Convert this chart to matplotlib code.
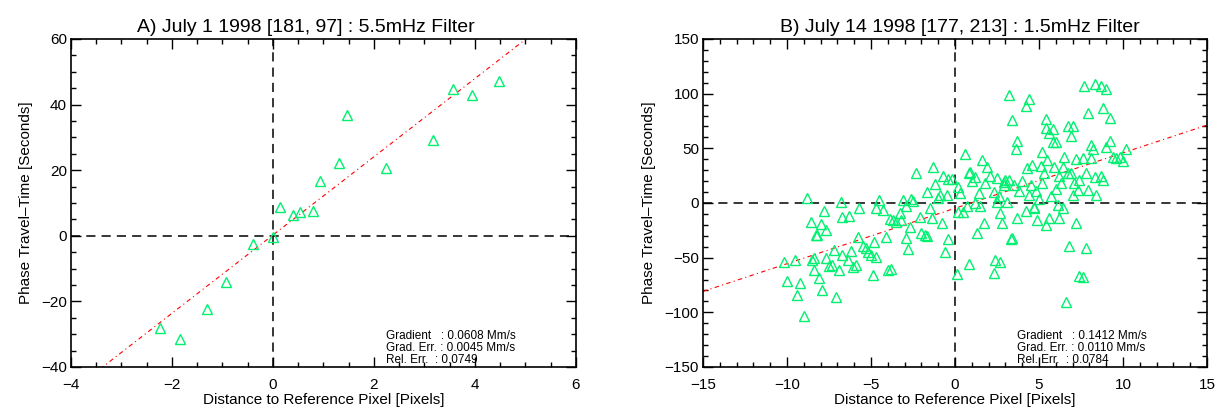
# Phase travel-time vs distance to reference pixel, two filters

import numpy as np
import matplotlib
matplotlib.use('Agg')
import matplotlib.pyplot as plt
from matplotlib.ticker import MultipleLocator

plt.rcParams['font.family'] = ['Liberation Sans', 'DejaVu Sans']

# Panel A data (July 1 1998, 5.5mHz)
a_dist = [-2.24, -1.84, -1.31, -0.92, -0.39, 0.0, 0.14, 0.39, 0.53, 0.79,
          0.93, 1.31, 1.46, 2.24, 3.16, 3.56, 3.95, 4.48]
a_time = [-28.0, -31.6, -22.2, -14.2, -2.6, -0.4, 8.9, 6.3, 7.2, 7.7,
          16.7, 22.3, 36.9, 20.6, 29.3, 44.8, 43.0, 47.3]
a_fit = [0.23, 11.93]  # intercept, slope
a_stats = ["0.0608 Mm/s", "0.0045 Mm/s", "0.0749"]

# Panel B data (July 14 1998, 1.5mHz)
b_dist = [-10.2, -9.5, -10.0, -9.2, -9.4, -9.0, -8.8, -8.6, -8.5, -8.4,
          -8.4, -8.3, -8.2, -8.0, -8.1, -7.9, -7.8, -7.7, -7.7, -7.5,
          -7.3, -7.2, -7.1, -6.9, -6.8, -6.7, -6.7, -6.4, -6.3, -6.2,
          -6.1, -5.9, -5.8, -5.7, -5.5, -5.3, -5.2, -5.0, -4.9, -4.8,
          -4.7, -4.7, -4.5, -4.3, -4.1, -4.0, -3.8, -3.9, -3.7, -3.5,
          -3.3, -3.2, -3.1, -2.9, -2.9, -2.8, -2.7, -2.6, -2.5, -2.3,
          -2.1, -2.0, -1.8, -1.7, -1.7, -1.5, -1.4, -1.3, -1.2, -1.0,
          -0.9, -0.8, -0.7, -0.6, -0.5, -0.4, -0.4, -0.2,
          0.1, 0.2, 0.3, 0.2, 0.5, 0.6, 0.7, 0.8, 0.8, 0.9,
          1.0, 1.2, 1.2, 1.3, 1.4, 1.5, 1.6, 1.7, 1.8, 1.9,
          2.1, 2.3, 2.3, 2.4, 2.5, 2.5, 2.6, 2.7, 2.7, 2.8,
          2.9, 2.9, 3.0, 3.1, 3.2, 3.2, 3.3, 3.4, 3.4, 3.5,
          3.6, 3.7, 3.7, 3.8, 4.0, 4.2, 4.2, 4.3, 4.4, 4.4,
          4.5, 4.6, 4.7, 4.7, 4.8, 4.9, 5.0, 5.1, 5.2, 5.2,
          5.3, 5.4, 5.4, 5.4, 5.5, 5.6, 5.6, 5.7, 5.8, 5.8,
          5.9, 6.0, 6.0, 6.1, 6.2, 6.2, 6.3, 6.4, 6.4, 6.5,
          6.6, 6.7, 6.7, 6.8, 6.9, 6.9, 7.0, 7.0, 7.1, 7.2,
          7.2, 7.3, 7.4, 7.4, 7.6, 7.6, 7.7, 7.8, 7.8, 7.9,
          7.9, 8.1, 8.1, 8.2, 8.3, 8.3, 8.4, 8.7, 8.7, 8.8,
          8.8, 9.0, 9.0, 9.2, 9.2, 9.4, 9.6, 9.8, 10.0, 10.2]
b_time = [-54, -52, -71, -73, -84, -103, 5, -17, -52, -50,
          -61, -29, -29, -19, -69, -80, -7, -25, -50, -58,
          -57, -43, -86, -61, 1, -13, -48, -52, -12, -44,
          -59, -57, -31, -5, -39, -41, -45, -48, -66, -36,
          -49, -5, 3, -6, -31, -61, -60, -15, -16, -17,
          -9, -16, 3, -32, -3, -42, -22, 4, 2, 27,
          -13, -27, -29, -30, 10, -5, -14, 33, 17, 5,
          7, -18, 25, -45, 7, -33, 22, 22,
          -65, 15, 9, -8, -8, 45, -3, -56, 27, 28,
          20, 0, 24, -27, 9, -3, 39, -18, 18, 33,
          25, -64, 10, -52, 1, 23, 6, -54, -9, -18,
          19, 16, 21, 1, 21, 99, -33, 76, -32, 16,
          49, -14, 57, 11, 20, 89, -7, 32, 95, 7,
          16, 35, -5, -4, 11, -16, 4, 34, 47, 18,
          27, 69, 77, -20, 39, 64, -14, 6, 68, 56,
          33, 56, 13, -2, -14, 25, 18, 33, -5, 42,
          -91, 70, 27, -39, 27, 61, 7, 70, 18, 40,
          -18, 12, 21, -67, -68, 41, 107, -41, 27, 82,
          12, 53, 41, 49, 24, 109, 7, 107, 25, 87,
          21, 51, 104, 78, 57, 42, 41, 42, 38, 49]
b_fit = [-4.8, 5.07]
b_stats = ["0.1412 Mm/s", "0.0110 Mm/s", "0.0784"]

green = '#00f070'


def panel(ax, x, y, fit, stats, title, title_x, xlim, ylim, xmaj, xmin, ymaj, ymin):
    ax.axvline(0, color='k', ls=(0, (6, 4)), lw=1.1)
    ax.axhline(0, color='k', ls=(0, (6, 4)), lw=1.1)
    xx = np.array(xlim)
    ax.plot(xx, fit[0] + fit[1] * xx, color='red', lw=0.8, ls=(0, (4, 3, 1, 3)))
    ax.plot(x, y, ls='none', marker='^', ms=7, mfc='none', mec=green, mew=1.0)
    ax.set_xlim(xlim)
    ax.set_ylim(ylim)
    ax.xaxis.set_major_locator(MultipleLocator(xmaj))
    ax.xaxis.set_minor_locator(MultipleLocator(xmin))
    ax.yaxis.set_major_locator(MultipleLocator(ymaj))
    ax.yaxis.set_minor_locator(MultipleLocator(ymin))
    ax.tick_params(which='both', direction='in', top=True, right=True, labelsize=11)
    ax.tick_params(which='major', length=7, width=1)
    ax.tick_params(which='minor', length=3.5, width=1)
    ax.tick_params(axis='x', pad=8)
    ax.tick_params(axis='y', pad=3)
    for s in ax.spines.values():
        s.set_linewidth(1.2)
    ax.set_title(title, fontsize=14, pad=5, x=title_x)
    ax.set_xlabel('Distance to Reference Pixel [Pixels]', fontsize=11, labelpad=1)
    ax.set_ylabel('Phase Travel\u2013Time [Seconds]', fontsize=11, labelpad=6)
    txt = ("Gradient   : " + stats[0] + "\n" +
           "Grad. Err. : " + stats[1] + "\n" +
           "Rel. Err.  : " + stats[2])
    ax.text(0.623, 0.002, txt, transform=ax.transAxes, fontsize=8.5,
            va='bottom', ha='left', linespacing=1.0)


fig = plt.figure(figsize=(12.21, 4.13), dpi=100)
ax1 = fig.add_axes([0.0581, 0.1114, 0.4136, 0.7942])
ax2 = fig.add_axes([0.5758, 0.1114, 0.4128, 0.7942])

panel(ax1, a_dist, a_time, a_fit, a_stats,
      'A) July 1 1998 [181, 97] : 5.5mHz Filter', 0.465,
      (-4, 6), (-40, 60), 2, 0.5, 20, 5)
panel(ax2, b_dist, b_time, b_fit, b_stats,
      'B) July 14 1998 [177, 213] : 1.5mHz Filter', 0.51,
      (-15, 15), (-150, 150), 5, 1, 50, 10)

fig.savefig('out.png', dpi=100)
